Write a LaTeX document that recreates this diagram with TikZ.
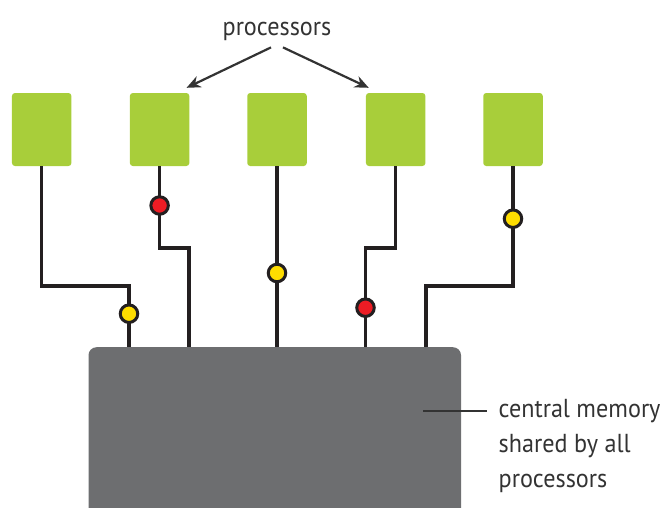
\documentclass[tikz,border=0pt]{standalone}
\usepackage{fontspec}
\setmainfont{PT Sans}
\newfontfamily\lblfont{PT Sans}[FakeStretch=0.93]
\usetikzlibrary{arrows.meta}
\definecolor{procgreen}{HTML}{A8CE3A}
\definecolor{memgray}{HTML}{6D6E70}
\definecolor{wirec}{HTML}{231F20}
\definecolor{txt}{HTML}{333333}
\definecolor{dotyellow}{HTML}{FFDD00}
\definecolor{dotred}{HTML}{ED1C24}
\tikzset{
 proc/.style={fill=procgreen, rounded corners=3pt, minimum width=59.5pt, minimum height=73pt, inner sep=0pt},
 mem/.style={fill=memgray, rounded corners=8pt, minimum width=372.5pt, minimum height=200pt, inner sep=0pt},
 wire/.style={draw=wirec, line width=3.3pt},
 dotbase/.style={circle, draw=wirec, line width=3pt, minimum size=17.5pt, inner sep=0pt},
 ydot/.style={dotbase, fill=dotyellow},
 rdot/.style={dotbase, fill=dotred},
 lbl/.style={text=txt, font=\lblfont\fontsize{26}{35}\selectfont, inner sep=0pt},
 pointer/.style={draw=txt, line width=2.2pt, -{Stealth[length=14pt,width=12pt]}},
 leader/.style={draw=txt, line width=2pt},
}
\begin{document}
\begin{tikzpicture}[x=1pt,y=-1pt]
\useasboundingbox (0,0) rectangle (664,507);
% memory
\node[mem, anchor=north] (mem) at (274.75,347) {};
% processors
\node[proc] (p1) at (41.7,129.5) {};
\node[proc] (p2) at (159.6,129.5) {};
\node[proc] (p3) at (277,129.5) {};
\node[proc] (p4) at (395.7,129.5) {};
\node[proc] (p5) at (513,129.5) {};
% bend points
\coordinate (c1) at (129,286);
\coordinate (c2) at (189,248);
\coordinate (c4) at (365.5,248);
\coordinate (c5) at (426,286);
% wires
\draw[wire] (p1.south) |- (c1) -- (c1 |- mem.north);
\draw[wire] (p2.south) |- (c2) -- (c2 |- mem.north);
\draw[wire] (p3.south) -- (p3.south |- mem.north);
\draw[wire] (p4.south) |- (c4) -- (c4 |- mem.north);
\draw[wire] (p5.south) |- (c5) -- (c5 |- mem.north);
% dots
\node[ydot] (d1) at (129,313.7) {};
\node[rdot] (d2) at (159.6,205.5) {};
\node[ydot] (d3) at (277,273) {};
\node[rdot] (d4) at (365.5,307.7) {};
\node[ydot] (d5) at (513,218.7) {};
% processors label
\node[lbl, anchor=base] (ptext) at (277,35) {processors};
\draw[pointer] ([shift={(-6,7)}]ptext.south) -- ([shift={(-3,-5)}]p2.north east);
\draw[pointer] ([shift={(6,7)}]ptext.south) -- ([shift={(3,-5)}]p4.north west);
% memory label
\node[lbl, align=left, anchor=north west, inner xsep=11.5pt] (mtext) at (487,399.5)
  {central memory\\shared by all\\processors};
\coordinate (ml) at (423,411);
\draw[leader] (ml) -- (ml -| mtext.west);
\end{tikzpicture}
\end{document}
